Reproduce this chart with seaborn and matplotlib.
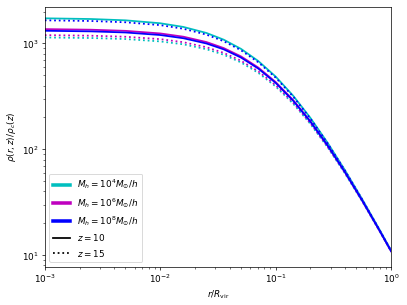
import numpy as np
import pandas as pd
import matplotlib
matplotlib.use("Agg")
import matplotlib.pyplot as plt
from matplotlib.lines import Line2D
import seaborn as sns

# radius in units of R_vir
r = [0.001, 0.002512, 0.005012, 0.01, 0.01585, 0.02512, 0.03548, 0.05012, 0.07079,
     0.1, 0.1413, 0.1995, 0.2818, 0.3981, 0.5623, 0.7943, 1.0]

# rho(r,z)/rho_c(z) for each halo mass and redshift
rho_m4_z10 = [1727, 1701, 1653, 1551, 1432, 1256, 1085, 888, 681,
              486, 321.8, 198.5, 115.1, 63.5, 33.7, 17.39, 11.05]
rho_m6_z10 = [1366, 1348, 1315, 1243, 1158, 1031, 904, 754, 591,
              431.6, 292.6, 184.5, 109.0, 61.05, 32.77, 17.04, 10.88]
rho_m8_z10 = [1317, 1300, 1269, 1201, 1120, 999, 879, 735, 578,
              423.9, 288.5, 182.7, 108.3, 60.8, 32.71, 17.03, 10.88]
rho_m4_z15 = [1138, 1125, 1100, 1045, 981, 882, 782, 661, 527,
              392.1, 270.9, 174.0, 104.4, 59.22, 32.1, 16.82, 10.77]
rho_m6_z15 = [1198, 1183, 1156, 1098, 1027, 921, 814, 686, 544,
              402.8, 276.9, 176.9, 105.7, 59.73, 32.28, 16.88, 10.8]
rho_m8_z15 = [1653, 1629, 1584, 1489, 1376, 1211, 1049, 861, 663,
              475.0, 315.8, 195.6, 113.8, 62.95, 33.48, 17.3, 11.0]

masses = ["4", "6", "8"]
mass_colors = {"4": "c", "6": "m", "8": "b"}
redshifts = [10, 15]

series = {
    ("4", 10): rho_m4_z10, ("6", 10): rho_m6_z10, ("8", 10): rho_m8_z10,
    ("4", 15): rho_m4_z15, ("6", 15): rho_m6_z15, ("8", 15): rho_m8_z15,
}

rows = []
for (m, z), vals in series.items():
    for ri, v in zip(r, vals):
        rows.append({"r": ri, "rho": v, "mass": m, "z": z})
df = pd.DataFrame(rows)

fig, ax = plt.subplots(figsize=(6.4, 4.8), dpi=407 / 6.4)
fig.subplots_adjust(left=0.11, right=0.961, bottom=0.126, top=0.977)

for m in masses:
    for z in redshifts:
        sub = df[(df["mass"] == m) & (df["z"] == z)]
        sns.lineplot(data=sub, x="r", y="rho", ax=ax, color=mass_colors[m],
                     linestyle="-" if z == 10 else ":", linewidth=2,
                     estimator=None, legend=False)

ax.set_xscale("log")
ax.set_yscale("log")
ax.set_xlim(1e-3, 1)
ax.set_ylim(7.8, 2220)
ax.set_xlabel(r"$r/R_{\rm vir}$")
ax.set_ylabel(r"$\rho(r,z)/\rho_c(z)$")

handles = [Line2D([], [], color=mass_colors[m], lw=4) for m in masses]
labels = [r"$M_h = 10^{%s}M_{\odot}/h$" % m for m in masses]
handles += [Line2D([], [], color="k", lw=2, ls="-"), Line2D([], [], color="k", lw=2, ls=":")]
labels += [r"$z = 10$", r"$z = 15$"]
ax.legend(handles, labels, loc="lower left")

fig.savefig("out.png")
